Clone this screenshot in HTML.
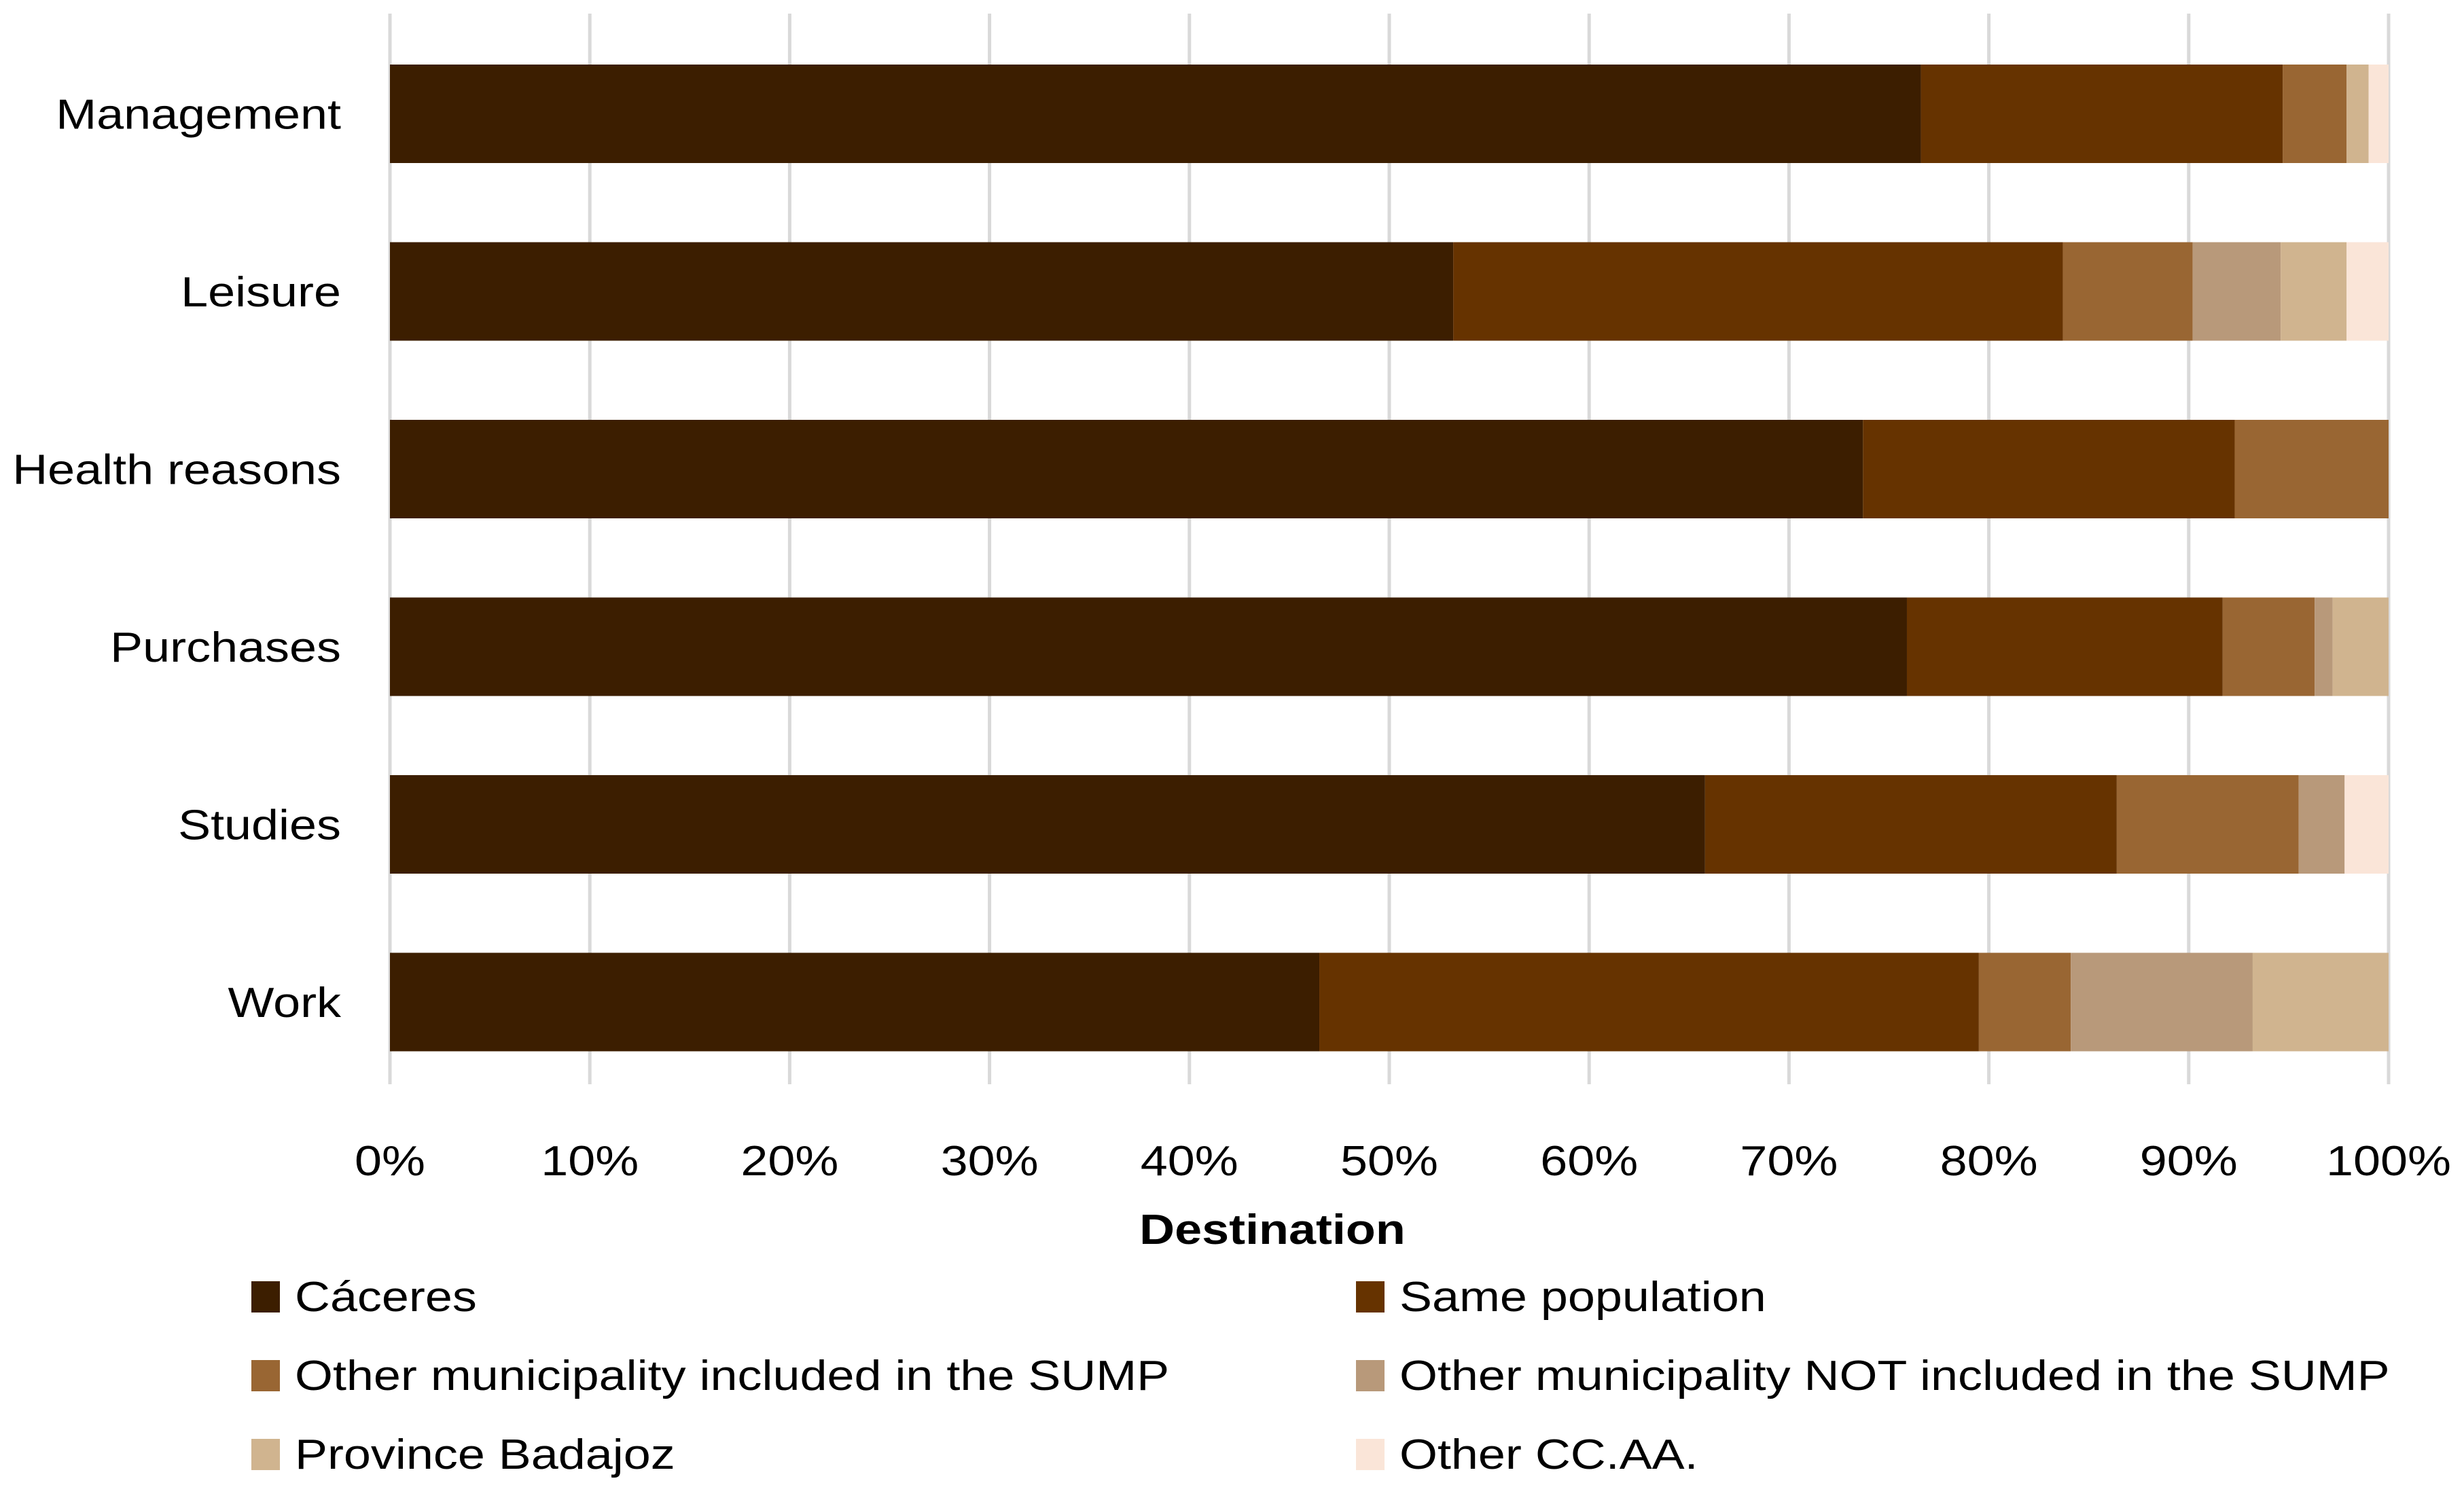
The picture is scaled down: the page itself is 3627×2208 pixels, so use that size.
<!DOCTYPE html>
<html><head><meta charset="utf-8"><style>
html,body{margin:0;padding:0;background:#fff;}
svg{display:block;font-family:"Liberation Sans",sans-serif;}
</style></head><body>
<svg id="chart" width="3627" height="2208" viewBox="0 0 3627 2208" xmlns="http://www.w3.org/2000/svg">
<g id="grid"></g><g id="bars"></g><g id="ylabels"></g><g id="xticks"></g>
<text id="xtitle" x="1873" y="1831" text-anchor="middle" font-size="62" font-weight="bold" fill="#000">Destination</text>
<g id="legend"></g>
</svg>
<script>
const categories = ["Management","Leisure","Health reasons","Purchases","Studies","Work"];
const seriesNames = ["Cáceres","Same population","Other municipality included in the SUMP","Other municipality NOT included in the SUMP","Province Badajoz","Other CC.AA."];
const caceres   = [76.6, 53.2, 73.7, 75.9, 65.8, 46.5];
const samePop   = [18.1, 30.5, 18.6, 15.8, 20.6, 33.0];
const otherIncl = [3.2, 6.5, 7.7, 4.6, 9.1, 4.6];
const otherNot  = [0.0, 4.4, 0.0, 0.9, 2.3, 9.1];
const badajoz   = [1.1, 3.3, 0.0, 2.8, 0.0, 6.8];
const otherCCAA = [1.0, 2.1, 0.0, 0.0, 2.2, 0.0];
const tickValues = [0,10,20,30,40,50,60,70,80,90,100];
const tickLabels = ["0%","10%","20%","30%","40%","50%","60%","70%","80%","90%","100%"];
const colors = ["#3c1e00","#663300","#996633","#b8997a","#d0b48f","#fae5d8"];
const series = [caceres, samePop, otherIncl, otherNot, badajoz, otherCCAA];

const NS="http://www.w3.org/2000/svg";
const x0=574, x1=3516, yTop=95, pitch=261.5, barH=145;
const xScale=v=>x0+(v/100)*(x1-x0);
const yScale=i=>yTop+i*pitch;
const FS=62, STRETCH=1.16;
function mk(tag,attrs,parent){const e=document.createElementNS(NS,tag);for(const k in attrs)e.setAttribute(k,attrs[k]);parent.appendChild(e);return e;}
function stretch(t){const w=t.getComputedTextLength();t.setAttribute('textLength',w*STRETCH);t.setAttribute('lengthAdjust','spacingAndGlyphs');}

const grid=document.getElementById('grid');
tickValues.forEach((t,i)=>{
  const l=mk('line',{x1:xScale(t),x2:xScale(t),y1:20,y2:1596,stroke:'#d9d9d9','stroke-width':5},grid);
  
  
  const tx=mk('text',{x:xScale(t),y:1730,'text-anchor':'middle','font-size':FS,fill:'#000'},document.getElementById('xticks'));
  tx.textContent=tickLabels[i];
  
  
  stretch(tx);
});

const bars=document.getElementById('bars');
categories.forEach((c,i)=>{
  let acc=0;
  series.forEach((s,j)=>{
    const v=s[i];
    if(v>0){
      const r=mk('rect',{x:xScale(acc),y:yScale(i),width:xScale(acc+v)-xScale(acc),height:barH,fill:colors[j]},bars);
      
      
    }
    acc+=v;
  });
  const t=mk('text',{x:502,y:yScale(i)+barH/2+22,'text-anchor':'end','font-size':FS,fill:'#000'},document.getElementById('ylabels'));
  t.textContent=c;
  
  
  stretch(t);
});
stretch(document.getElementById('xtitle'));

const legend=document.getElementById('legend');
seriesNames.forEach((n,j)=>{
  const col=j%2, row=Math.floor(j/2);
  const lx=col===0?370:1996, ly=1908+row*116;
  const g=mk('g',{},legend);
  
  
  mk('rect',{x:lx,y:ly-22,width:42,height:46,fill:colors[j]},g);
  const t=mk('text',{x:lx+64,y:ly+22,'font-size':FS,fill:'#000'},g);
  t.textContent=n;
  stretch(t);
});
</script>
</body></html>
